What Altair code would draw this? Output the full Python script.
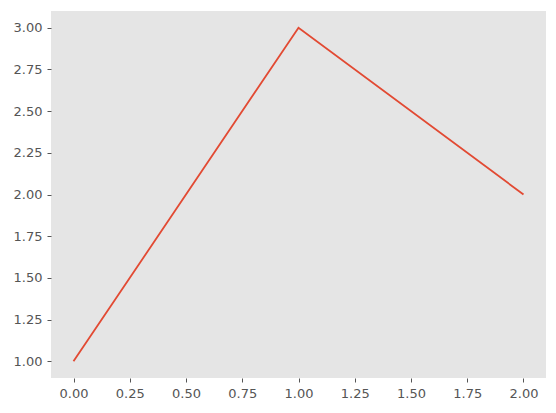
import altair as alt
import pandas as pd

xs = [0, 1, 2]
ys = [1, 3, 2]
x_ticks = [0, 0.25, 0.5, 0.75, 1.0, 1.25, 1.5, 1.75, 2.0]
y_ticks = [1.0, 1.25, 1.5, 1.75, 2.0, 2.25, 2.5, 2.75, 3.0]

df = pd.DataFrame({"x": xs, "y": ys})

axis_common = dict(
    domain=False, grid=False, ticks=True, tickSize=4, tickWidth=1,
    tickColor="#555555", labelColor="#555555", labelFont="DejaVu Sans",
    labelFontSize=13, format=".2f", title=None,
)

chart = alt.Chart(df).mark_line(color="#E24A33", strokeWidth=1.8, clip=True).encode(
    x=alt.X("x:Q", scale=alt.Scale(domain=[-0.1, 2.1], nice=False, zero=False),
            axis=alt.Axis(values=x_ticks, labelPadding=5, **axis_common)),
    y=alt.Y("y:Q", scale=alt.Scale(domain=[0.9, 3.1], nice=False, zero=False),
            axis=alt.Axis(values=y_ticks, labelPadding=5, **axis_common)),
).properties(
    width=495, height=367,
    autosize=alt.AutoSizeParams(type="none"),
    padding={"left": 43, "top": 3, "right": 2, "bottom": 27},
    background="white",
).configure_view(fill="#E5E5E5", strokeWidth=0)

chart.save("out.html", embed_options={"renderer": "svg", "actions": False})
